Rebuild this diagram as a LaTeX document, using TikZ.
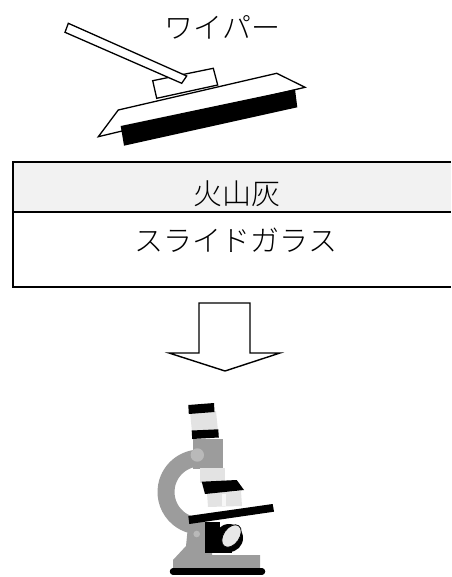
\documentclass[tikz,border=0pt]{standalone}
\usepackage{fontspec}
\newfontfamily\jp{Noto Sans CJK JP}[UprightFont=* Light]
\begin{document}
\begin{tikzpicture}[x=1pt,y=-1pt,
  outline/.style={draw=black,line width=1.3pt,line join=miter},
  label/.style={font=\jp\fontsize{29pt}{31pt}\selectfont,inner sep=0pt},
  layerline/.style={draw=black,line width=1.6pt},
  scopegray/.style={fill=gray!78!white,draw=none},
  lightpart/.style={fill=gray!22!white,draw=none},
  darkpart/.style={fill=black,draw=none}]
\useasboundingbox (0,0) rectangle (451,577);

% --- wiper ---
% blade body
\draw[outline,fill=white] (118.3,110) -- (276.7,73.3) -- (305,87.3) -- (98.3,136.7) -- cycle;
% rubber edge
\fill[black] (120.7,126) -- (295,89.3) -- (297.3,107.3) -- (124,145.7) -- cycle;
% clamp on the blade
\draw[outline,fill=white] (152.7,80.7) -- (213.3,68.3) -- (217.7,85) -- (156.7,98.3) -- cycle;
% handle
\draw[outline,fill=white] (68.3,23.3) -- (186.7,76) -- (181.7,83.3) -- (65,32.3) -- cycle;
\node[label] (wiper) at (222.5,27) {ワイパー};

% --- slide glass with ash layer ---
\fill[gray!10!white] (13,162) rectangle (451,212);
\draw[layerline] (451,162) -- (13,162) -- (13,287) -- (451,287);
\draw[layerline] (13,212) -- (451,212);
\node[label] (ash) at (237,194) {火山灰};
\node[label] (glass) at (236,240) {スライドガラス};

% --- block arrow ---
\draw[outline,fill=white,line width=1.4pt] (199,303) -- (250,303) -- (250,353) -- (280,353)
  -- (225,371) -- (169,353) -- (199,353) -- cycle;

% --- microscope ---
% arm
\draw[gray!78!white,line width=17pt] (200,492) ++(-80:34) arc[start angle=-80,end angle=-280,radius=34];
% base
\fill[gray!78!white] (173,570) -- (173,560) -- (186,546) -- (188,526) -- (212,524) -- (212,555)
  -- (260,555) -- (260,570) -- cycle;
\fill[gray!55!white] (196.7,534) circle[radius=3.3];
% body tube
\fill[gray!78!white] (193,439) rectangle (223,469);
\fill[gray!55!white] (197.3,455) circle[radius=6.7];
% eyepiece
\fill[lightpart] (190,412) -- (216,411) -- (218,431) -- (192,432) -- cycle;
\fill[darkpart] (188.3,405) -- (214,403) -- (214.5,412) -- (188.8,414) -- cycle;
\fill[darkpart] (191.7,430.5) -- (218.3,429.3) -- (218.8,437.5) -- (192.2,439) -- cycle;
% lower tube
\fill[lightpart] (200,468) rectangle (225,483);
% objective plate and lenses
\fill[lightpart] (207,493) -- (241,491) -- (242,506) -- (208,507) -- cycle;
\fill[gray!6!white] (222,494) rectangle (226,506);
\fill[darkpart] (201.7,481.7) -- (236.7,480) -- (244,490) -- (205,494) -- cycle;
% stage
\fill[darkpart] (188.3,516) -- (272.7,504) -- (274,511.7) -- (189.3,524) -- cycle;
% mirror housing and mirror
\fill[darkpart] (205,522) rectangle (220,553);
\fill[darkpart] (229,538) circle[radius=14];
\fill[darkpart] (215,540) rectangle (232,553);
\draw[fill=gray!18!white,draw=black,line width=0.8pt] (231.5,536) ellipse[x radius=8,y radius=12.5,rotate=-35];
% foot
\draw[black,line width=6.5pt,line cap=round] (173,571.5) -- (262,571.5);
\end{tikzpicture}
\end{document}
